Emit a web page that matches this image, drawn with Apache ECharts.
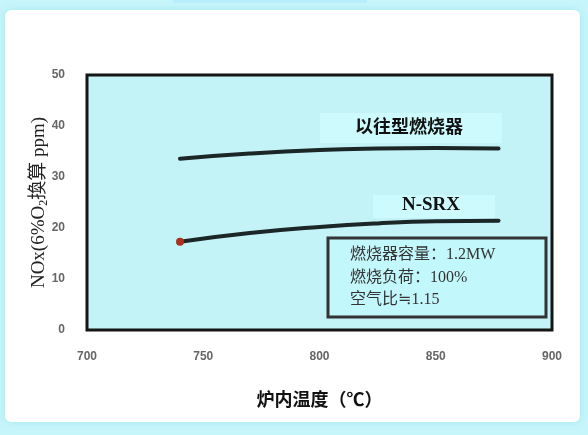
<!DOCTYPE html>
<html>
<head>
<meta charset="utf-8">
<script src="https://cdn.jsdelivr.net/npm/echarts@6/dist/echarts.min.js"></script>
<style>html,body{margin:0;padding:0;}#c{width:588px;height:435px;}</style>
</head>
<body>
<div id="c"></div>
<script>
var temps = [740, 770, 800, 825, 850, 877];
var conventional = [33.6, 34.6, 35.3, 35.6, 35.7, 35.6];
var nsrx = [17.3, 19.0, 20.2, 20.9, 21.3, 21.4];
var xTicks = [700, 750, 800, 850, 900];
var yTicks = [0, 10, 20, 30, 40, 50];
var seriesNames = ['以往型燃烧器', 'N-SRX'];
var infoLines = ['燃烧器容量：1.2MW', '燃烧负荷：100%', '空气比≒1.15'];

var chart = echarts.init(document.getElementById('c'));
function pairs(xs, ys) { return xs.map(function (x, i) { return [x, ys[i]]; }); }
var nsrxData = pairs(temps, nsrx).map(function (p, i) {
  return i === 0 ? { value: p, symbol: 'circle', symbolSize: 8, itemStyle: { color: '#a8321f' } } : { value: p };
});
var serif = '"Liberation Serif", "DejaVu Serif", "Noto Sans CJK SC", serif';
chart.setOption({
  backgroundColor: '#c6f5fa',
  animation: false,
  graphic: [
    { type: 'rect', z: -10, shape: { x: 5, y: 10, width: 575, height: 412, r: 6 },
      style: { fill: '#ffffff', shadowBlur: 6, shadowColor: 'rgba(150,230,240,0.8)' } },
    { type: 'rect', z: -9, shape: { x: 173, y: 0, width: 194, height: 3 }, style: { fill: '#b6eefb' } },
    { type: 'rect', z: 5, shape: { x: 320, y: 113, width: 182, height: 30 }, style: { fill: '#cdfbfd' } },
    { type: 'text', z: 6, left: 355, top: 117,
      style: { text: seriesNames[0], font: 'bold 18px "Noto Sans CJK SC", sans-serif', fill: '#111' } },
    { type: 'rect', z: 5, shape: { x: 373, y: 195, width: 122, height: 23 }, style: { fill: '#cdfbfd' } },
    { type: 'text', z: 6, left: 402, top: 196,
      style: { text: seriesNames[1], font: 'bold 19px ' + serif, fill: '#111' } },
    { type: 'rect', z: 7, shape: { x: 328, y: 238, width: 218, height: 79 },
      style: { fill: '#c2f7fb', stroke: '#333333', lineWidth: 3 } },
    { type: 'text', z: 8, left: 350, top: 244,
      style: { text: infoLines.join('\n'), font: '16px ' + serif, lineHeight: 22.5, fill: '#333' } }
  ],
  grid: { left: 87, right: 36, top: 75, bottom: 105, show: true, backgroundColor: '#c3f3f7',
          borderColor: '#151515', borderWidth: 3 },
  xAxis: {
    type: 'value', min: xTicks[0], max: xTicks[xTicks.length - 1], interval: 50,
    name: '炉内温度（℃）', nameLocation: 'middle', nameGap: 60, nameMoveOverlap: false,
    nameTextStyle: { fontSize: 18, fontWeight: 'bold', color: '#111', fontFamily: '"Noto Sans CJK SC", sans-serif' },
    axisLine: { show: false }, axisTick: { show: false }, splitLine: { show: false },
    axisLabel: { margin: 21, color: '#666', fontWeight: 'bold', fontSize: 12, fontFamily: '"Liberation Sans", Arial, sans-serif' }
  },
  yAxis: {
    type: 'value', min: yTicks[0], max: yTicks[yTicks.length - 1], interval: 10,
    name: 'NOx(6%O{s|2}換算 ppm)', nameLocation: 'middle', nameGap: 37, nameRotate: 90, nameMoveOverlap: false,
    nameTextStyle: { fontSize: 19, color: '#222', fontFamily: serif,
      rich: { s: { fontSize: 12, fontFamily: serif, color: '#222', padding: [10, 0, 0, 0] } } },
    axisLine: { show: false }, axisTick: { show: false }, splitLine: { show: false },
    axisLabel: { margin: 22, color: '#666', fontWeight: 'bold', fontSize: 12, fontFamily: '"Liberation Sans", Arial, sans-serif' }
  },
  series: [
    { name: seriesNames[0], type: 'line', smooth: true, symbol: 'none', data: pairs(temps, conventional),
      lineStyle: { color: '#1b2626', width: 4, cap: 'round' } },
    { name: seriesNames[1], type: 'line', smooth: true, symbol: 'none', data: nsrxData,
      lineStyle: { color: '#1b2626', width: 4, cap: 'round' } }
  ]
});
</script>
</body>
</html>
